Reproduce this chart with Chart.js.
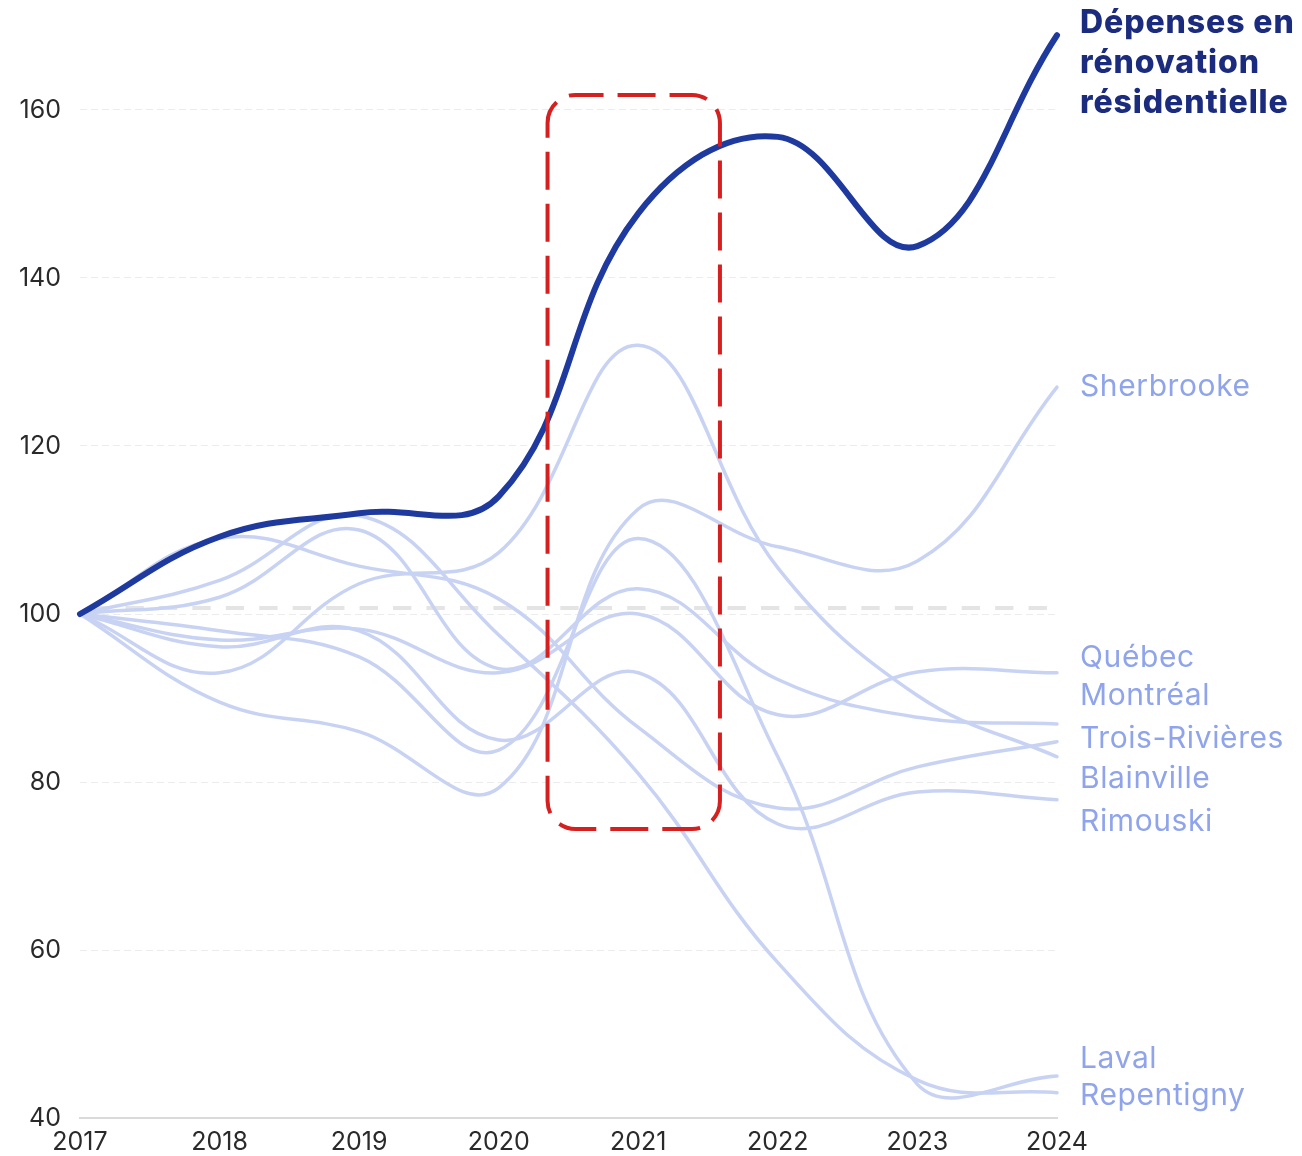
<!DOCTYPE html>
<html><head><meta charset="utf-8">
<script src="https://cdn.jsdelivr.net/npm/chart.js@4.4.1/dist/chart.umd.min.js"></script>
<style>html,body{margin:0;padding:0;background:#fff;overflow:hidden}</style>
</head><body>
<canvas id="c" width="1302" height="1156" style="width:1302px;height:1156px;display:block"></canvas>
<script>
// ---- data ----
const years = ['2017','2018','2019','2020','2021','2022','2023','2024'];
const yTickValues = [40, 60, 80, 100, 120, 140, 160];
const renovation    = [100, 109.2, 112.0, 114.0, 147.7, 156.8, 143.8, 168.9];
const sherbrooke    = [100,  89.5,  86.0,  79.3, 112.5, 108.0, 106.3, 127.0];
const quebec        = [100,  96.9,  98.2,  93.0, 100.0,  88.0,  93.1,  93.0];
const montreal      = [100, 102.0, 110.0,  93.5, 103.0,  92.2,  87.7,  86.9];
const troisRivieres = [100, 109.0, 105.7, 101.8,  86.5,  76.9,  81.8,  84.8];
const blainville    = [100,  93.0, 103.6, 107.3, 132.0, 105.5,  90.3,  83.0];
const rimouski      = [100,  96.1,  98.0,  85.0,  93.0,  75.0,  78.8,  77.9];
const laval         = [100,  98.0,  94.9,  83.8, 109.0,  83.0,  44.0,  45.0];
const repentigny    = [100, 104.0, 111.7,  97.5,  81.0,  58.5,  44.5,  43.0];
const referenceValue = 100.7;
// highlighted window (x in year-index units, y in index units)
const highlightX = [3.35, 4.585];
const highlightY = [74.4, 161.8];

const mainLabel = ['Dépenses en', 'rénovation', 'résidentielle'];
const cityNames = ['Sherbrooke','Québec','Montréal','Trois-Rivières','Blainville','Rimouski','Laval','Repentigny'];
const citySeries = [sherbrooke, quebec, montreal, troisRivieres, blainville, rimouski, laval, repentigny];

// ---- styles / layout ----
const FONT = 'Inter, "Noto Sans", sans-serif';
const DARK = '#1f3a9f';
const LIGHT = '#c8d3f4';
const LABEL_LIGHT = '#8fa4ea';
const LABEL_DARK = '#1b2c7f';
const labelX = 1080;
const mainBaselines = [33, 73, 113];
const cityBaselines = [396, 667, 705, 748, 788, 831, 1068, 1105];

Chart.defaults.font.family = FONT;

const datasets = [{
  label: mainLabel.join(' '),
  data: renovation,
  borderColor: DARK, borderWidth: 6, tension: 0.4,
  pointRadius: 0, order: 0, clip: false, borderCapStyle: 'round', borderJoinStyle: 'round'
}];
cityNames.forEach((n, i) => datasets.push({
  label: n, data: citySeries[i],
  borderColor: LIGHT, borderWidth: 3.5, tension: 0.4,
  pointRadius: 0, order: 1, clip: false, borderCapStyle: 'round'
}));

const overlay = {
  id: 'overlay',
  beforeDatasetsDraw(chart) {
    const {ctx, chartArea, scales: {y}} = chart;
    const py = y.getPixelForValue(referenceValue);
    ctx.save();
    ctx.strokeStyle = '#e4e4e4';
    ctx.lineWidth = 4;
    ctx.setLineDash([18.3, 15.15]);
    ctx.beginPath();
    ctx.moveTo(chartArea.left + 12, py);
    ctx.lineTo(chartArea.right - 10, py);
    ctx.stroke();
    ctx.restore();
  },
  afterDatasetsDraw(chart) {
    const {ctx, scales: {x, y}} = chart;
    const l = x.getPixelForValue(highlightX[0]);
    const r = x.getPixelForValue(highlightX[1]);
    const t = y.getPixelForValue(highlightY[1]);
    const b = y.getPixelForValue(highlightY[0]);
    const rad = 28;
    ctx.save();
    ctx.strokeStyle = '#d61f1f';
    ctx.lineWidth = 4;
    ctx.setLineDash([38, 14]);
    ctx.lineDashOffset = 10;
    ctx.beginPath();
    ctx.moveTo(l + rad, t);
    ctx.lineTo(r - rad, t);
    ctx.arcTo(r, t, r, t + rad, rad);
    ctx.lineTo(r, b - rad);
    ctx.arcTo(r, b, r - rad, b, rad);
    ctx.lineTo(l + rad, b);
    ctx.arcTo(l, b, l, b - rad, rad);
    ctx.lineTo(l, t + rad);
    ctx.arcTo(l, t, l + rad, t, rad);
    ctx.closePath();
    ctx.stroke();
    ctx.restore();
  },
  afterDraw(chart) {
    const {ctx} = chart;
    ctx.save();
    ctx.textAlign = 'left';
    ctx.textBaseline = 'alphabetic';
    ctx.fillStyle = LABEL_DARK;
    ctx.font = '800 32px ' + FONT;
    try { ctx.letterSpacing = '0.9px'; } catch (e) {}
    mainLabel.forEach((s, i) => ctx.fillText(s, labelX, mainBaselines[i]));
    ctx.fillStyle = LABEL_LIGHT;
    ctx.font = '30px ' + FONT;
    try { ctx.letterSpacing = '0.6px'; } catch (e) {}
    cityNames.forEach((s, i) => ctx.fillText(s, labelX, cityBaselines[i]));
    ctx.restore();
  }
};

new Chart(document.getElementById('c'), {
  type: 'line',
  data: { labels: years, datasets },
  options: {
    responsive: false,
    animation: false,
    devicePixelRatio: 1,
    layout: { padding: { left: 0, right: 245, top: 26, bottom: 0 } },
    plugins: { legend: { display: false }, tooltip: { enabled: false } },
    scales: {
      x: {
        type: 'category',
        offset: false,
        grid: { display: false, drawTicks: false },
        border: { display: true, color: '#dadada', width: 2 },
        ticks: { color: '#2a2a2a', font: { size: 25 }, padding: 9, maxRotation: 0, autoSkip: false },
        afterFit(s) { s.height = 38; s.paddingLeft = 0; s.paddingRight = 0; }
      },
      y: {
        min: 40, max: 170,
        ticks: { stepSize: 20, color: '#2a2a2a', font: { size: 25 }, padding: 19 },
        afterBuildTicks(s) { s.ticks = s.ticks.filter(t => yTickValues.includes(t.value)); },
        grid: {
          color: c => (c.tick && c.tick.value === 40) ? 'rgba(0,0,0,0)' : '#ececec',
          lineWidth: 1, drawTicks: false
        },
        border: { display: false, dash: [7, 4] },
        afterFit(s) { s.width = 80; s.paddingTop = 0; s.paddingBottom = 0; }
      }
    }
  },
  plugins: [overlay]
});
</script>
</body></html>
